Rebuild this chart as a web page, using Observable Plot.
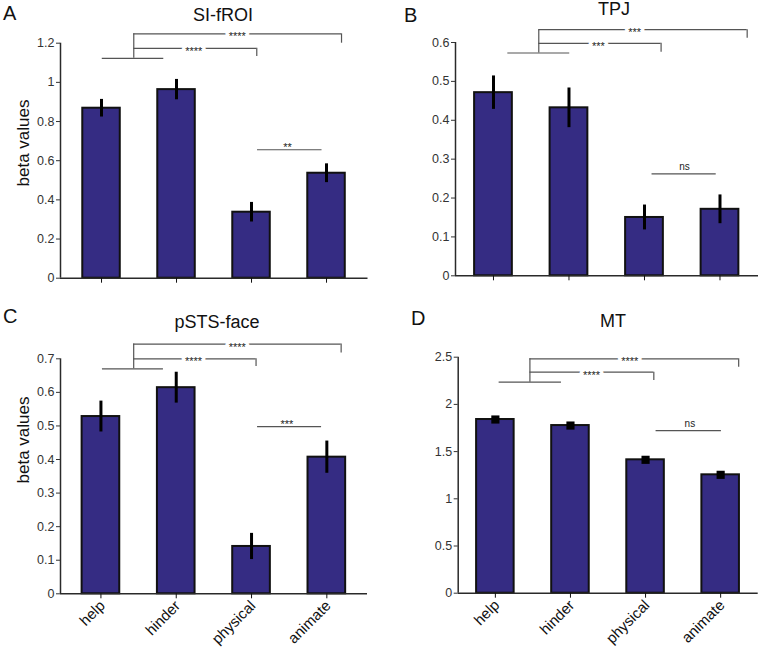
<!DOCTYPE html>
<html><head><meta charset="utf-8">
<script src="https://cdn.jsdelivr.net/npm/d3@7"></script>
<script src="https://cdn.jsdelivr.net/npm/@observablehq/plot@0.6"></script>
<style>
body{margin:0;background:#fff;}
#wrap{position:relative;width:762px;height:657px;font-family:"Liberation Sans",Arial,Helvetica,sans-serif;overflow:hidden;}
.panel{position:absolute;}
#overlay{position:absolute;left:0;top:0;pointer-events:none;}
</style></head><body>
<div id="wrap"></div>
<script>
// ---------- data ----------
const categories = ["help", "hinder", "physical", "animate"];

const siFROI    = [0.868, 0.963, 0.337, 0.536];
const siFROIErr = [0.045, 0.052, 0.050, 0.048];
const tpj       = [0.471, 0.432, 0.150, 0.171];
const tpjErr    = [0.043, 0.051, 0.032, 0.037];
const pstsFace  = [0.528, 0.614, 0.141, 0.407];
const pstsErr   = [0.046, 0.046, 0.039, 0.048];
const mt        = [1.840, 1.776, 1.413, 1.254];
const mtErr     = [0.030, 0.025, 0.030, 0.030];

const ticksA = [0, 0.2, 0.4, 0.6, 0.8, 1, 1.2];
const ticksB = [0, 0.1, 0.2, 0.3, 0.4, 0.5, 0.6];
const ticksC = [0, 0.1, 0.2, 0.3, 0.4, 0.5, 0.6, 0.7];
const ticksD = [0, 0.5, 1, 1.5, 2, 2.5];

// significance brackets (data units: x = category index, y = beta value)
// base: [x1, x2, y, stem x]
const baseA = [0.01, 0.83, 1.123, 0.43];
const baseB = [0.19, 1.01, 0.573, 0.60];
const baseC = [0.02, 0.83, 0.670, 0.435];
const baseD = [0.05, 0.88, 2.235, 0.46];
// comparisons: [end x, line y, drop-to y, label, label x]
const compsA = [[2.07, 1.174, 1.132, "****", 1.23], [3.20, 1.248, 1.200, "****", 1.81]];
const compsB = [[2.22, 0.598, 0.575, "***", 1.39], [3.36, 0.633, 0.611, "***", 1.87]];
const compsC = [[2.06, 0.700, 0.677, "****", 1.23], [3.19, 0.744, 0.717, "****", 1.81]];
const compsD = [[2.11, 2.341, 2.253, "****", 1.28], [3.24, 2.483, 2.394, "****", 1.79]];
// pair: [x1, x2, y, label, label x]
const pairA = [2.08, 2.94, 0.656, "**", 2.48];
const pairB = [2.10, 2.95, 0.262, "ns", 2.53];
const pairC = [2.08, 2.93, 0.498, "***", 2.47];
const pairD = [2.14, 3.01, 1.723, "ns", 2.59];

// ---------- drawing ----------
const barColor = "#352c83";
const axisColor = "#2a2a2a";
const bracketColor = "#555";
const font = "'Liberation Sans', Arial, Helvetica, sans-serif";

function panel(spec) {
  const data = categories.map((c, i) => ({i, c, v: spec.values[i], e: spec.errors[i]}));
  const [bx1, bx2, by, stem] = spec.base;
  const topY = Math.max(...spec.comps.map(d => d[1]));
  const comps = spec.comps.map(d => ({to: d[0], y: d[1], drop: d[2], label: d[3], lx: d[4]}));
  const pair = {x1: spec.pair[0], x2: spec.pair[1], y: spec.pair[2], label: spec.pair[3], lx: spec.pair[4]};
  const isNs = pair.label === "ns";

  const marks = [
    Plot.rect(data, {x1: d => d.i - 0.25, x2: d => d.i + 0.25, y1: 0, y2: "v",
      fill: barColor, stroke: "#111", strokeWidth: 2}),
    Plot.ruleX(data, {x: "i", y1: d => d.v - d.e, y2: d => d.v + d.e, stroke: "#000", strokeWidth: 3})
  ];
  if (spec.squares) {
    marks.push(Plot.dot(data, {x: "i", y: "v", symbol: "square", r: 4.6, fill: "#000", stroke: null}));
  }
  marks.push(
    // axes
    Plot.ruleY([0], {stroke: axisColor, strokeWidth: 1.5}),
    Plot.ruleX([spec.xDomain[0]], {y1: 0, y2: spec.ticks[spec.ticks.length - 1], stroke: axisColor, strokeWidth: 1.5}),
    Plot.axisY({ticks: spec.ticks, tickSize: 4, tickPadding: 2, tickFormat: d => String(d),
      fontSize: 12.5, label: null, color: "#333"}),
    Plot.axisX({ticks: [0, 1, 2, 3], tickSize: 5, tickFormat: () => "", label: null, color: "#111"}),
    // group bracket
    Plot.ruleY([0], {x1: bx1, x2: bx2, y: by, stroke: bracketColor, strokeWidth: 1.2}),
    Plot.ruleX([0], {x: stem, y1: by, y2: topY, stroke: bracketColor, strokeWidth: 1.2}),
    Plot.ruleY(comps, {x1: stem, x2: "to", y: "y", stroke: bracketColor, strokeWidth: 1.2}),
    Plot.ruleX(comps, {x: "to", y1: "drop", y2: "y", stroke: bracketColor, strokeWidth: 1.2}),
    Plot.text(comps, {x: "lx", y: "y", text: "label", fontSize: 11, dy: 3, fill: "#222",
      stroke: "white", strokeWidth: 7, fontWeight: "normal"}),
    // pair bracket
    Plot.ruleY([pair], {x1: "x1", x2: "x2", y: "y", stroke: bracketColor, strokeWidth: 1.2}),
    Plot.text([pair], {x: "lx", y: "y", text: "label", fontSize: isNs ? 10 : 11,
      dy: isNs ? -7 : -2, fill: "#222"})
  );

  const p = Plot.plot({
    width: 381, height: spec.height,
    marginLeft: spec.m[0], marginRight: spec.m[1], marginTop: spec.m[2], marginBottom: spec.m[3],
    x: {type: "linear", domain: spec.xDomain},
    y: {domain: [0, spec.ticks[spec.ticks.length - 1]]},
    style: {fontFamily: font, background: "transparent", overflow: "visible"},
    marks
  });
  p.classList.add("panel");
  p.style.left = spec.left + "px";
  p.style.top = spec.top + "px";
  return {node: p, spec};
}

const wrap = document.getElementById("wrap");
const panels = [
  panel({values: siFROI, errors: siFROIErr, ticks: ticksA, base: baseA, comps: compsA, pair: pairA,
    left: 0, top: 0, height: 300, m: [60, 13.5, 42.7, 22.3], xDomain: [-0.547, 3.553], xLabels: false}),
  panel({values: tpj, errors: tpjErr, ticks: ticksB, base: baseB, comps: compsB, pair: pairB,
    left: 381, top: 0, height: 300, m: [74, 4, 42, 24.7], xDomain: [-0.503, 3.51], xLabels: false}),
  panel({values: pstsFace, errors: pstsErr, ticks: ticksC, base: baseC, comps: compsC, pair: pairC,
    left: 0, top: 300, height: 357, m: [60, 14, 58.3, 63.7], xDomain: [-0.537, 3.54], xLabels: true}),
  panel({values: mt, errors: mtErr, ticks: ticksD, base: baseD, comps: compsD, pair: pairD,
    left: 381, top: 300, height: 357, m: [76.7, 4.3, 56.7, 64.3], xDomain: [-0.495, 3.5], xLabels: true, squares: true})
];
panels.forEach(p => wrap.appendChild(p.node));

// ---------- titles, panel letters, y labels, rotated category labels ----------
const titles = [
  {t: "A", x: 3, y: 20, s: 20, a: "start"},
  {t: "SI-fROI", x: 223, y: 21, s: 18, a: "middle"},
  {t: "B", x: 404, y: 22, s: 20, a: "start"},
  {t: "TPJ", x: 614, y: 15, s: 18, a: "middle"},
  {t: "C", x: 3, y: 323, s: 20, a: "start"},
  {t: "pSTS-face", x: 217, y: 328, s: 18, a: "middle"},
  {t: "D", x: 411, y: 325, s: 20, a: "start"},
  {t: "MT", x: 613, y: 327, s: 18, a: "middle"}
];
const ylabels = [{t: "beta values", x: 29, y: 143}, {t: "beta values", x: 29, y: 440}];
const svg = d3.select(wrap).append("svg").attr("id", "overlay").attr("width", 762).attr("height", 657)
  .style("font-family", font);
svg.selectAll("text.t").data(titles).join("text").attr("class", "t")
  .attr("x", d => d.x).attr("y", d => d.y).attr("font-size", d => d.s).attr("text-anchor", d => d.a)
  .attr("fill", "#111").text(d => d.t);
svg.selectAll("text.yl").data(ylabels).join("text").attr("class", "yl")
  .attr("transform", d => `translate(${d.x},${d.y}) rotate(-90)`).attr("text-anchor", "middle")
  .attr("font-size", 17).attr("fill", "#111").text(d => d.t);

// category labels, placed with each panel's own Plot x/y scales
const catLabels = [];
panels.filter(p => p.spec.xLabels).forEach(({node, spec}) => {
  const sx = node.scale("x"), sy = node.scale("y");
  categories.forEach((c, i) => catLabels.push({t: c, x: spec.left + sx.apply(i) + 2, y: spec.top + sy.apply(0) + 10}));
});
svg.selectAll("text.cl").data(catLabels).join("text").attr("class", "cl")
  .attr("transform", d => `translate(${d.x},${d.y}) rotate(-45)`).attr("text-anchor", "end")
  .attr("dy", "0.32em").attr("font-size", 15).attr("fill", "#111").text(d => d.t);
</script>
</body></html>
